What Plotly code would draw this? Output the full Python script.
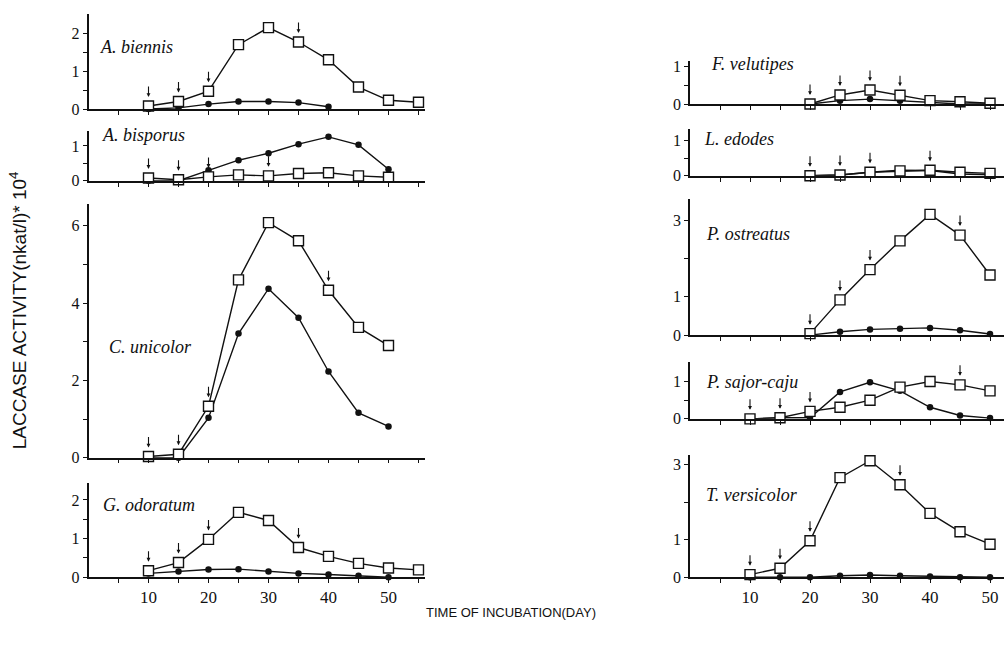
import plotly.graph_objects as go

# ---------------- data ----------------
biennis_sq_days = [10, 15, 20, 25, 30, 35, 40, 45, 50, 55]
biennis_sq = [0.08, 0.20, 0.47, 1.70, 2.15, 1.77, 1.30, 0.58, 0.23, 0.18]
biennis_ci_days = [10, 15, 20, 25, 30, 35, 40]
biennis_ci = [0.00, 0.03, 0.13, 0.20, 0.20, 0.17, 0.06]
biennis_arrows = [10, 15, 20, 35]

bisporus_days = [10, 15, 20, 25, 30, 35, 40, 45, 50]
bisporus_sq = [0.08, 0.03, 0.11, 0.17, 0.14, 0.21, 0.23, 0.14, 0.10]
bisporus_ci = [0.00, 0.00, 0.30, 0.59, 0.79, 1.05, 1.26, 1.03, 0.33]
bisporus_arrows = [10, 15, 20, 30]

unicolor_days = [10, 15, 20, 25, 30, 35, 40, 45, 50]
unicolor_sq = [0.03, 0.09, 1.33, 4.60, 6.08, 5.61, 4.33, 3.37, 2.90]
unicolor_ci = [0.00, 0.00, 1.03, 3.21, 4.37, 3.62, 2.23, 1.16, 0.81]
unicolor_arrows = [10, 15, 20, 40]

odoratum_sq_days = [10, 15, 20, 25, 30, 35, 40, 45, 50, 55]
odoratum_sq = [0.17, 0.38, 0.98, 1.68, 1.47, 0.77, 0.54, 0.36, 0.24, 0.19]
odoratum_ci_days = [10, 15, 20, 25, 30, 35, 40, 45, 50]
odoratum_ci = [0.10, 0.15, 0.20, 0.21, 0.15, 0.10, 0.07, 0.04, 0.00]
odoratum_arrows = [10, 15, 20, 35]

velutipes_days = [20, 25, 30, 35, 40, 45, 50]
velutipes_sq = [0.00, 0.24, 0.37, 0.23, 0.09, 0.06, 0.02]
velutipes_ci = [0.00, 0.09, 0.13, 0.09, 0.04, 0.00, 0.00]
velutipes_arrows = [20, 25, 30, 35]

edodes_days = [20, 25, 30, 35, 40, 45, 50]
edodes_sq = [0.00, 0.02, 0.10, 0.14, 0.16, 0.10, 0.07]
edodes_ci = [0.00, 0.02, 0.10, 0.16, 0.15, 0.05, 0.03]
edodes_arrows = [20, 25, 30, 40]

ostreatus_days = [20, 25, 30, 35, 40, 45, 50]
ostreatus_sq = [0.04, 0.92, 1.71, 2.46, 3.15, 2.61, 1.57]
ostreatus_ci = [0.00, 0.09, 0.15, 0.17, 0.19, 0.13, 0.03]
ostreatus_arrows = [20, 25, 30, 45]

sajorcaju_days = [10, 15, 20, 25, 30, 35, 40, 45, 50]
sajorcaju_sq = [0.00, 0.03, 0.20, 0.31, 0.50, 0.85, 1.00, 0.91, 0.75]
sajorcaju_ci = [0.00, 0.03, 0.03, 0.72, 0.98, 0.75, 0.31, 0.09, 0.02]
sajorcaju_arrows = [10, 15, 20, 45]

versicolor_days = [10, 15, 20, 25, 30, 35, 40, 45, 50]
versicolor_sq = [0.07, 0.24, 0.97, 2.65, 3.10, 2.46, 1.70, 1.21, 0.88]
versicolor_ci = [0.00, 0.00, 0.00, 0.04, 0.06, 0.04, 0.02, 0.00, 0.00]
versicolor_arrows = [10, 15, 20, 35]

x_tick_labels = ["10", "20", "30", "40", "50"]
y_title = "LACCASE ACTIVITY(nkat/l)* 10<sup>4</sup>"
x_title = "TIME OF INCUBATION(DAY)"

# ---------------- layout configuration (pixel geometry) ----------------
W, H = 1004, 649


def vy(py):
    # vertical pixel position (from top) -> paper fraction, with a small stretch correction
    return 1 - (py * 1.015 - 1.6) / H


LEFT = dict(x0=88.5, x1=424.5, xmax=56.0, xticks=[5, 10, 15, 20, 25, 30, 35, 40, 45, 50, 55])
RIGHT = dict(x0=690.0, x1=1004.0, xmax=52.33, xticks=[5, 10, 15, 20, 25, 30, 35, 40, 45, 50])

panels = [
    dict(label="A. biennis", side=LEFT, top=13, bottom=108, ymax=2.5,
         sqx=biennis_sq_days, sq=biennis_sq, cix=biennis_ci_days, ci=biennis_ci, arrows=biennis_arrows,
         yt=[0, 0.5, 1, 1.5, 2], ytt=["0", "", "1", "", "2"], lab=(98, 46), bottom_axis=False),
    dict(label="A. bisporus", side=LEFT, top=130, bottom=180, ymax=1.43,
         sqx=bisporus_days, sq=bisporus_sq, cix=bisporus_days, ci=bisporus_ci, arrows=bisporus_arrows,
         yt=[0, 0.5, 1], ytt=["0", "", "1"], lab=(100, 134), bottom_axis=False),
    dict(label="C. unicolor", side=LEFT, top=203, bottom=458, ymax=6.57,
         sqx=unicolor_days, sq=unicolor_sq, cix=unicolor_days, ci=unicolor_ci, arrows=unicolor_arrows,
         yt=[0, 1, 2, 3, 4, 5, 6], ytt=["0", "", "2", "", "4", "", "6"], lab=(107, 347), bottom_axis=False),
    dict(label="G. odoratum", side=LEFT, top=483, bottom=578, ymax=2.45,
         sqx=odoratum_sq_days, sq=odoratum_sq, cix=odoratum_ci_days, ci=odoratum_ci, arrows=odoratum_arrows,
         yt=[0, 0.5, 1, 1.5, 2], ytt=["0", "", "1", "", "2"], lab=(101, 505), bottom_axis=True),
    dict(label="F. velutipes", side=RIGHT, top=60, bottom=103, ymax=1.13,
         sqx=velutipes_days, sq=velutipes_sq, cix=velutipes_days, ci=velutipes_ci, arrows=velutipes_arrows,
         yt=[0, 0.5, 1], ytt=["0", "", "1"], lab=(709, 63), bottom_axis=False),
    dict(label="L. edodes", side=RIGHT, top=128, bottom=175, ymax=1.34,
         sqx=edodes_days, sq=edodes_sq, cix=edodes_days, ci=edodes_ci, arrows=edodes_arrows,
         yt=[0, 0.5, 1], ytt=["0", "", "1"], lab=(702, 138), bottom_axis=False),
    dict(label="P. ostreatus", side=RIGHT, top=198, bottom=335, ymax=3.56,
         sqx=ostreatus_days, sq=ostreatus_sq, cix=ostreatus_days, ci=ostreatus_ci, arrows=ostreatus_arrows,
         yt=[0, 1, 2, 3], ytt=["0", "1", "", "3"], lab=(704, 233), bottom_axis=False),
    dict(label="P. sajor-caju", side=RIGHT, top=362, bottom=419, ymax=1.52,
         sqx=sajorcaju_days, sq=sajorcaju_sq, cix=sajorcaju_days, ci=sajorcaju_ci, arrows=sajorcaju_arrows,
         yt=[0, 0.5, 1], ytt=["0", "", "1"], lab=(704, 382), bottom_axis=False),
    dict(label="T. versicolor", side=RIGHT, top=455, bottom=578, ymax=3.26,
         sqx=versicolor_days, sq=versicolor_sq, cix=versicolor_days, ci=versicolor_ci, arrows=versicolor_arrows,
         yt=[0, 1, 2, 3], ytt=["0", "1", "", "3"], lab=(704, 495), bottom_axis=True),
]

SERIF = "Liberation Serif"
SANS = "Liberation Sans"
INK = "#111111"

fig = go.Figure()
annotations = []
layout_axes = {}

for i, p in enumerate(panels, start=1):
    xa = "x" if i == 1 else f"x{i}"
    ya = "y" if i == 1 else f"y{i}"
    side = p["side"]

    # filled circles
    fig.add_trace(go.Scatter(
        x=p["cix"], y=p["ci"], xaxis=xa, yaxis=ya, mode="lines+markers",
        line=dict(color=INK, width=1.4),
        marker=dict(symbol="circle", size=6.5, color=INK),
        cliponaxis=False, showlegend=False, hoverinfo="x+y"))
    # open squares
    fig.add_trace(go.Scatter(
        x=p["sqx"], y=p["sq"], xaxis=xa, yaxis=ya, mode="lines+markers",
        line=dict(color=INK, width=1.4),
        marker=dict(symbol="square", size=10, color="white", line=dict(color=INK, width=1.4)),
        cliponaxis=False, showlegend=False, hoverinfo="x+y"))

    # small arrows above the square series
    for d in p["arrows"]:
        yv = p["sq"][p["sqx"].index(d)]
        annotations.append(dict(
            x=d, y=yv, xref=xa, yref=ya, text="", showarrow=True,
            ax=0, ay=-21, axref="pixel", ayref="pixel", standoff=9,
            arrowhead=2, arrowsize=0.7, arrowwidth=1.1, arrowcolor=INK))

    # species label
    lx, ly = p["lab"]
    annotations.append(dict(
        x=lx / W, y=vy(ly), xref="paper", yref="paper", xanchor="left", yanchor="middle",
        text=f"<i>{p['label']}</i>", showarrow=False,
        font=dict(family=SERIF, size=18, color=INK)))

    xticks = side["xticks"]
    if p["bottom_axis"]:
        xtt = [str(v) if str(v) in x_tick_labels else "" for v in xticks]
    else:
        xtt = ["" for v in xticks]

    layout_axes["xaxis" if i == 1 else f"xaxis{i}"] = dict(
        domain=[side["x0"] / W, side["x1"] / W], range=[0, side["xmax"]],
        anchor=ya, showline=True, linecolor=INK, linewidth=1.5,
        ticks="outside", ticklen=4, tickwidth=1.3, tickcolor=INK,
        tickvals=xticks, ticktext=xtt, showgrid=False, zeroline=False,
        tickfont=dict(family=SERIF, size=17, color=INK), fixedrange=True)
    layout_axes["yaxis" if i == 1 else f"yaxis{i}"] = dict(
        domain=[vy(p["bottom"]), vy(p["top"])], range=[0, p["ymax"]],
        anchor=xa, showline=True, linecolor=INK, linewidth=1.5,
        ticks="outside", ticklen=4, tickwidth=1.3, tickcolor=INK,
        tickvals=p["yt"], ticktext=p["ytt"], showgrid=False, zeroline=False,
        tickfont=dict(family=SERIF, size=16, color=INK), fixedrange=True)

# axis titles
annotations.append(dict(
    x=18 / W, y=vy(310), xref="paper", yref="paper", text=y_title, textangle=-90,
    showarrow=False, xanchor="center", yanchor="middle",
    font=dict(family=SANS, size=19, color=INK)))
annotations.append(dict(
    x=511 / W, y=vy(613), xref="paper", yref="paper", text=x_title,
    showarrow=False, xanchor="center", yanchor="middle",
    font=dict(family=SANS, size=13, color=INK)))

fig.update_layout(
    width=W, height=H, margin=dict(l=0, r=0, t=0, b=0),
    paper_bgcolor="white", plot_bgcolor="white",
    annotations=annotations, showlegend=False, **layout_axes)

fig.write_html(
    "out.html",
    config={"displayModeBar": False},
    post_script="document.body.style.margin='0';document.body.style.overflow='hidden';")
